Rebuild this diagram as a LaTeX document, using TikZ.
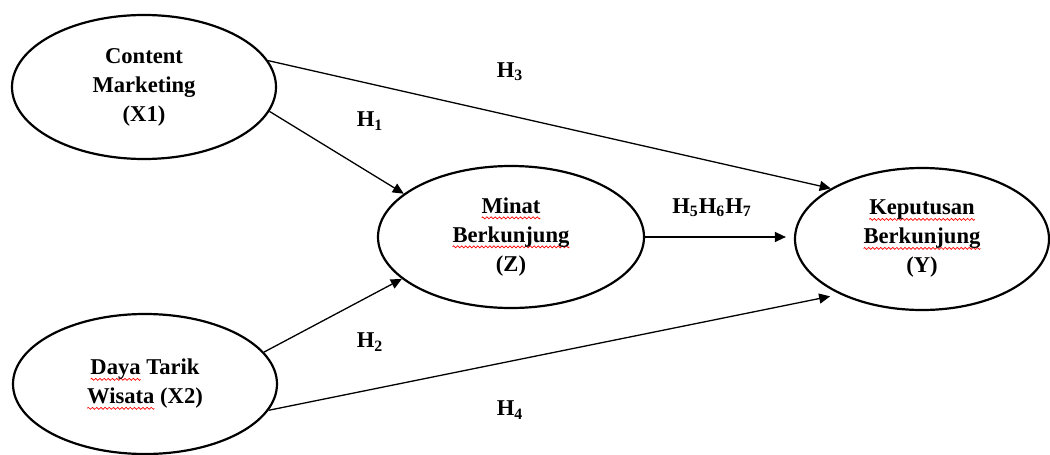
\documentclass[tikz,border=0pt]{standalone}
\usepackage{fontspec}
\setmainfont{Liberation Serif}
\usepackage{tikz}
\usetikzlibrary{shapes.geometric, arrows.meta}
\usepackage{xcolor}

% red wavy underline, one period drawn once and repeated under a word
\newsavebox\wavebox
\newsavebox\wordbox
\AtBeginDocument{\sbox\wavebox{\begin{pgfpicture}
    \pgfsetlinewidth{0.35pt}\pgfsetstrokecolor{red}
    \pgfpathmoveto{\pgfpointorigin}
    \pgfpathsine{\pgfpoint{0.5pt}{0.5pt}}\pgfpathcosine{\pgfpoint{0.5pt}{-0.5pt}}
    \pgfpathsine{\pgfpoint{0.5pt}{-0.5pt}}\pgfpathcosine{\pgfpoint{0.5pt}{0.5pt}}
    \pgfusepath{stroke}
    \pgfresetboundingbox
    \pgfpathrectangle{\pgfpointorigin}{\pgfpoint{2pt}{0pt}}
    \pgfusepath{use as bounding box}
    \end{pgfpicture}}}
\newcommand\redwave[1]{\sbox\wordbox{#1}\rlap{\raisebox{-2.2pt}{\hbox to\wd\wordbox{\xleaders\copy\wavebox\hfill}}}\usebox\wordbox}

\begin{document}
\begin{tikzpicture}[x=0.5pt,y=-0.5pt,
    var/.style={draw,ellipse,line width=1.1pt,inner sep=0pt,align=center,
        font=\fontsize{11.3}{14.5}\selectfont\bfseries},
    hyp/.style={font=\fontsize{11.3}{14.5}\selectfont\bfseries},
    link/.style={-{Triangle[length=5.5pt,width=5pt]},line width=0.65pt}]
    \useasboundingbox (0,0) rectangle (1050,455);
    \node[var,minimum width=132pt,minimum height=72pt] (x1) at (144,87) {Content\\Marketing\\(X1)};
    \node[var,minimum width=132pt,minimum height=70pt] (x2) at (145,384) {\redwave{Daya} Tarik\\\redwave{Wisata} (X2)};
    \node[var,minimum width=133pt,minimum height=71pt] (z) at (511,237) {\redwave{Minat}\\\redwave{Berkunjung}\\(Z)};
    \node[var,minimum width=127pt,minimum height=71pt] (y) at (922,239) {\redwave{Keputusan}\\\redwave{Berkunjung}\\(Y)};
    \node[hyp] (h1) at (370,121) {H\textsubscript{1}};
    \node[hyp] (h2) at (370,342) {H\textsubscript{2}};
    \node[hyp] (h3) at (510,72) {H\textsubscript{3}};
    \node[hyp] (h4) at (510,410) {H\textsubscript{4}};
    \node[hyp] (h567) at (712,208) {H\textsubscript{5}H\textsubscript{6}H\textsubscript{7}};
    \draw[link] (x1.-11) -- (z.158);
    \draw[link] (x1.12) -- (y.151);
    \draw[link] (x2.15) -- (z.201);
    \draw[link,shorten >=5pt] (x2.-12) -- (y.214);
    \draw[link,shorten >=4pt] (z.east) -- (z.east -| y.west);
\end{tikzpicture}
\end{document}
